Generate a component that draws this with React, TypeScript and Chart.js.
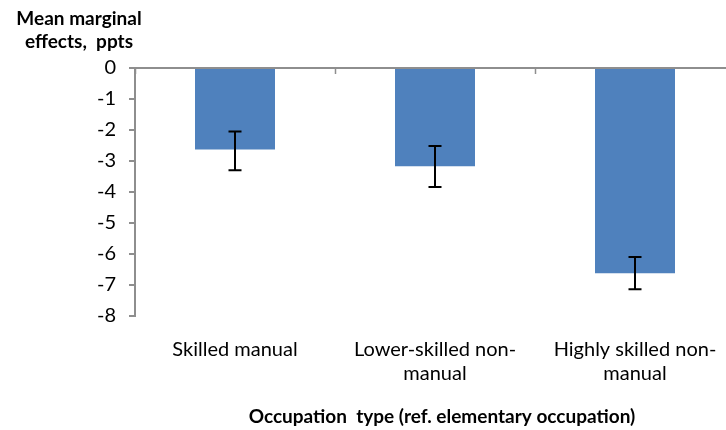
import React, { useEffect, useRef } from "react";
import { Chart, registerables } from "chart.js";

Chart.register(...registerables);

const categories: string[][] = [
  ["Skilled manual"],
  ["Lower-skilled non-", "manual"],
  ["Highly skilled non-", "manual"],
];
const meanEffects: number[] = [-2.63, -3.17, -6.62];
const ciUpper: number[] = [-2.05, -2.52, -6.1];
const ciLower: number[] = [-3.3, -3.84, -7.14];
const yTitleLines: string[] = ["Mean marginal", "effects,  ppts"];
const xTitle = "Occupation  type (ref. elementary occupation)";
const yMin = -8;
const yMax = 0;

const FONT = "Lato, 'Open Sans', sans-serif";
const AXIS_GRAY = "#8e8e8e";

const decorPlugin = {
  id: "decor",
  afterDatasetsDraw(chart: any) {
    const { ctx, chartArea, scales } = chart;
    const y = scales.y;
    const x = scales.x;
    const meta = chart.getDatasetMeta(0);
    ctx.save();
    // zero line
    const y0 = y.getPixelForValue(0);
    ctx.strokeStyle = AXIS_GRAY;
    ctx.lineWidth = 2;
    ctx.beginPath();
    ctx.moveTo(chartArea.left, y0);
    ctx.lineTo(chart.width, y0);
    ctx.stroke();
    // category boundary tick marks
    const n = categories.length;
    const step = x.getPixelForValue(1) - x.getPixelForValue(0);
    for (let i = 0; i <= n; i++) {
      const px = x.getPixelForValue(0) - step / 2 + i * step;
      ctx.beginPath();
      ctx.moveTo(Math.round(px) + 0.5, y0);
      ctx.lineTo(Math.round(px) + 0.5, y0 + 6);
      ctx.lineWidth = 1.5;
      ctx.stroke();
    }
    // error bars
    ctx.strokeStyle = "#000";
    ctx.lineWidth = 2;
    meta.data.forEach((bar: any, i: number) => {
      const cx = Math.round(bar.x);
      const yt = y.getPixelForValue(ciUpper[i]);
      const yb = y.getPixelForValue(ciLower[i]);
      ctx.beginPath();
      ctx.moveTo(cx, yt);
      ctx.lineTo(cx, yb);
      ctx.moveTo(cx - 6.5, yt);
      ctx.lineTo(cx + 6.5, yt);
      ctx.moveTo(cx - 6.5, yb);
      ctx.lineTo(cx + 6.5, yb);
      ctx.stroke();
    });
    ctx.restore();
  },
  afterDraw(chart: any) {
    const { ctx } = chart;
    ctx.save();
    ctx.fillStyle = "#000";
    ctx.textAlign = "center";
    ctx.textBaseline = "alphabetic";
    ctx.font = `bold 19px ${FONT}`;
    ctx.fillText(yTitleLines[0], 79, 25);
    ctx.fillText(yTitleLines[1], 79, 48);
    ctx.fillText(xTitle, 442, 423);
    ctx.restore();
  },
};

export default function App() {
  const ref = useRef<HTMLCanvasElement>(null);
  useEffect(() => {
    if (!ref.current) return;
    const chart = new Chart(ref.current, {
      type: "bar",
      data: {
        labels: categories,
        datasets: [
          {
            data: meanEffects,
            backgroundColor: "#4F81BD",
            borderWidth: 0,
            barPercentage: 0.4,
            categoryPercentage: 1,
          },
        ],
      },
      options: {
        animation: false,
        responsive: true,
        maintainAspectRatio: false,
        layout: { padding: { left: 0, right: 10, top: 68, bottom: 0 } },
        plugins: { legend: { display: false }, tooltip: { enabled: false }, title: { display: false } },
        scales: {
          x: {
            grid: { display: false },
            border: { display: false },
            ticks: {
              autoSkip: false,
              maxRotation: 0,
              minRotation: 0,
              padding: 14,
              color: "#000",
              font: { family: FONT, size: 20, lineHeight: 1.18 },
            },
            afterFit: (s: any) => {
              s.height = 114;
            },
          },
          y: {
            min: yMin,
            max: yMax,
            ticks: {
              stepSize: 1,
              padding: 13,
              color: "#000",
              font: { family: FONT, size: 20 },
            },
            grid: {
              drawOnChartArea: false,
              drawTicks: true,
              tickLength: 6,
              color: AXIS_GRAY,
              lineWidth: 2,
            },
            border: { display: true, color: AXIS_GRAY, width: 2 },
            afterFit: (s: any) => {
              s.width = 135;
            },
          },
        },
      },
      plugins: [decorPlugin],
    });
    return () => chart.destroy();
  }, []);
  return (
    <div style={{ position: "fixed", left: 0, top: 0, width: 726, height: 430, overflow: "hidden", background: "#fff" }}>
      <div style={{ position: "relative", width: 745, height: 430 }}>
        <canvas ref={ref} />
      </div>
    </div>
  );
}
